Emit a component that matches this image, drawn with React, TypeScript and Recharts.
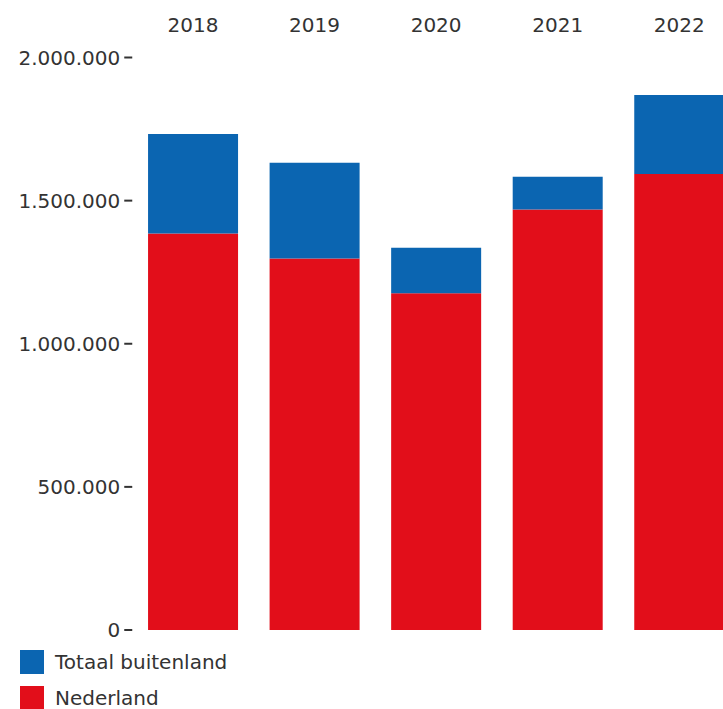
import React from "react";
import { BarChart, Bar, XAxis, YAxis, Legend } from "recharts";

const years = ["2018", "2019", "2020", "2021", "2022"];
const nederland = [1385000, 1298000, 1176000, 1469000, 1593000];
const buitenland = [348000, 334000, 159000, 114000, 276000];
const yTicks = [0, 500000, 1000000, 1500000, 2000000];

const RED = "#e20e1a";
const BLUE = "#0b65b1";
const FONT = "'DejaVu Sans', Verdana, sans-serif";

const data = years.map((y, i) => ({
  year: y,
  nederland: nederland[i],
  buitenland: buitenland[i],
}));

const fmt = (v: number) => v.toLocaleString("de-DE");

const LegendContent = (props: any) => {
  const items = [...(props.payload || [])].reverse();
  return (
    <div style={{ height: 79, position: "relative", overflow: "visible" }}>
      {items.map((it: any, i: number) => (
        <div
          key={i}
          style={{
            position: "absolute",
            left: 20,
            top: 20 + i * 36,
            height: 24,
            display: "flex",
            alignItems: "center",
            fontFamily: FONT,
            fontSize: 20,
            color: "#333",
            whiteSpace: "nowrap",
          }}
        >
          <span
            style={{
              display: "inline-block",
              width: 24,
              height: 24,
              background: it.color,
              marginRight: 11,
            }}
          />
          <span>{it.value}</span>
        </div>
      ))}
    </div>
  );
};

export default function App() {
  return (
    <div
      style={{
        position: "absolute",
        left: 0,
        top: 0,
        width: 723,
        height: 709,
        overflow: "hidden",
        background: "#fff",
      }}
    >
      <BarChart
        width={760}
        height={709}
        data={data}
        margin={{ top: 0, right: 20, bottom: 0, left: 0 }}
        barCategoryGap="13%"
      >
        <XAxis
          dataKey="year"
          orientation="top"
          height={57.5}
          axisLine={false}
          tickLine={false}
          tickSize={0}
          tickMargin={26}
          tick={{ fill: "#333", fontSize: 20, fontFamily: FONT }}
        />
        <YAxis
          width={132.25}
          domain={[0, 2000000]}
          ticks={yTicks}
          interval={0}
          axisLine={false}
          tickLine={{ stroke: "#333", strokeWidth: 2 }}
          tickSize={8}
          tickMargin={4}
          tickFormatter={fmt}
          tick={{ fill: "#333", fontSize: 20, fontFamily: FONT }}
        />
        <Legend
          verticalAlign="bottom"
          layout="horizontal"
          content={<LegendContent />}
        />
        <Bar
          dataKey="nederland"
          name="Nederland"
          stackId="a"
          fill={RED}
          isAnimationActive={false}
        />
        <Bar
          dataKey="buitenland"
          name="Totaal buitenland"
          stackId="a"
          fill={BLUE}
          isAnimationActive={false}
        />
      </BarChart>
    </div>
  );
}
